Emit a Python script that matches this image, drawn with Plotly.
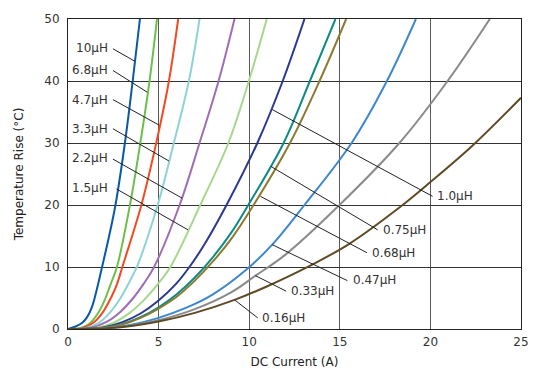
import plotly.graph_objects as go

# ---- data ----
names = ["10µH", "6.8µH", "4.7µH", "3.3µH", "2.2µH", "1.5µH",
         "1.0µH", "0.75µH", "0.68µH", "0.47µH", "0.33µH", "0.16µH"]

x_10 = [0, 0.42, 0.79, 1.07, 1.34, 1.6, 1.88, 2.27, 2.62, 3.14, 3.57, 3.97]
y_10 = [0, 0.4, 1.0, 2.0, 3.7, 6.5, 10, 15, 20, 30, 40, 50]

x_6p8 = [0, 0.7, 1.2, 1.6, 2.0, 2.35, 2.7, 3.42, 3.99, 4.5, 4.91]
y_6p8 = [0, 0.15, 0.9, 2.3, 4.5, 7.2, 10, 20, 30, 40, 50]

x_4p7 = [0, 0.8, 1.4, 1.9, 2.4, 2.7, 3.0, 4.05, 4.87, 5.57, 6.08]
y_4p7 = [0, 0.15, 1.0, 2.6, 5.2, 7.2, 10, 20, 30, 40, 50]

x_3p3 = [0, 1.0, 1.7, 2.3, 2.9, 3.6, 3.8, 4.95, 5.84, 6.67, 7.26]
y_3p3 = [0, 0.15, 1.0, 2.6, 5.0, 8.8, 10, 20, 30, 40, 50]

x_2p2 = [0, 1.2, 2.1, 2.9, 3.6, 4.2, 4.75, 6.16, 7.26, 8.31, 9.19]
y_2p2 = [0, 0.15, 1.1, 2.8, 5.0, 7.4, 10, 20, 30, 40, 50]

x_1p5 = [0, 1.5, 2.5, 3.4, 4.2, 5.0, 5.65, 7.3, 8.85, 9.98, 10.97]
y_1p5 = [0, 0.15, 1.0, 2.6, 4.7, 7.4, 10, 20, 30, 40, 50]

x_1p0 = [0, 2.0, 3.0, 4.0, 5.0, 6.0, 6.7, 7.5, 8.75, 10.45, 11.85, 13.05]
y_1p0 = [0, 0.3, 1.1, 2.5, 4.6, 7.4, 10, 13.5, 20, 30, 40, 50]

x_0p75 = [0, 2.0, 3.0, 4.0, 5.0, 6.0, 7.0, 8.0, 9.0, 9.95, 11.9, 13.35, 14.76]
y_0p75 = [0, 0.2, 0.8, 1.9, 3.5, 5.6, 8.3, 11.6, 15.5, 20, 30, 40, 50]

x_0p68 = [0, 2.0, 3.0, 4.0, 5.0, 6.0, 7.0, 8.0, 9.0, 10.2, 12.25, 13.88, 15.35]
y_0p68 = [0, 0.2, 0.75, 1.8, 3.3, 5.2, 7.8, 10.9, 14.5, 19.8, 30, 40, 50]

x_0p47 = [0, 2.0, 3.5, 5.0, 6.5, 8.0, 9.85, 11.27, 13.05, 15.65, 17.6, 19.2]
y_0p47 = [0, 0.1, 0.7, 1.8, 3.4, 5.6, 9.6, 13.6, 20, 30, 40, 50]

x_0p33 = [0, 2.0, 3.5, 5.0, 7.0, 9.0, 10.35, 12.0, 14.98, 18.29, 20.95, 23.28]
y_0p33 = [0, 0.1, 0.55, 1.4, 3.2, 5.9, 8.6, 12.0, 20, 30, 40, 50]

x_0p16 = [0, 2.0, 3.5, 5.0, 7.0, 9.19, 11.0, 13.42, 15.5, 18.29, 20.0, 22.33, 25.0]
y_0p16 = [0, 0.1, 0.5, 1.2, 2.6, 4.7, 6.9, 10.3, 13.7, 19.6, 23.7, 29.6, 37.3]

xs = [x_10, x_6p8, x_4p7, x_3p3, x_2p2, x_1p5, x_1p0, x_0p75, x_0p68, x_0p47, x_0p33, x_0p16]
ys = [y_10, y_6p8, y_4p7, y_3p3, y_2p2, y_1p5, y_1p0, y_0p75, y_0p68, y_0p47, y_0p33, y_0p16]

x_ticks = [0, 5, 10, 15, 20, 25]
y_ticks = [0, 10, 20, 30, 40, 50]

# ---- styles ----
colors = ["#0a58a8", "#6dbf4b", "#f04c23", "#8ed3d5", "#9d6db5", "#a5d88d",
          "#2b3990", "#0d8a84", "#8b7a30", "#3f87cc", "#8a8a8a", "#5e4b25"]

# label layout: (text_x, text_y, anchor, leader start, leader end)
label_pos = {
    "10µH":   (2.30, 45.4, "right", (2.48, 45.2), (3.68, 43.2)),
    "6.8µH":  (2.30, 41.7, "right", (2.48, 41.7), (4.37, 38.2)),
    "4.7µH":  (2.30, 37.0, "right", (2.48, 37.0), (5.02, 32.9)),
    "3.3µH":  (2.30, 32.3, "right", (2.48, 32.3), (5.57, 27.1)),
    "2.2µH":  (2.30, 27.6, "right", (2.48, 27.4), (6.30, 21.1)),
    "1.5µH":  (2.30, 22.8, "right", (2.67, 22.6), (6.62, 16.0)),
    "1.0µH":  (20.27, 21.5, "left", (11.27, 35.4), (20.12, 21.4)),
    "0.75µH": (17.28, 16.0, "left", (11.21, 26.2), (17.09, 16.0)),
    "0.68µH": (16.67, 12.2, "left", (10.62, 21.4), (16.50, 12.3)),
    "0.47µH": (15.62, 7.9, "left", (11.27, 13.6), (15.42, 7.8)),
    "0.33µH": (12.20, 6.2, "left", (10.35, 8.6), (12.04, 6.1)),
    "0.16µH": (10.60, 1.8, "left", (9.19, 4.7), (10.47, 1.8)),
}

FONT = "DejaVu Sans"

fig = go.Figure()
for n, x, y, c in zip(names, xs, ys, colors):
    fig.add_trace(go.Scatter(x=x, y=y, mode="lines", name=n,
                             line=dict(color=c, width=2, shape="spline", smoothing=1.0),
                             showlegend=False))

annotations = []
shapes = []
for n in names:
    tx, ty, anc, (x0, y0), (x1, y1) = label_pos[n]
    annotations.append(dict(x=tx, y=ty, xref="x", yref="y", text=n, showarrow=False,
                            xanchor=anc, yanchor="middle",
                            font=dict(family=FONT, size=12, color="#333")))
    shapes.append(dict(type="line", xref="x", yref="y", x0=x0, y0=y0, x1=x1, y1=y1,
                       line=dict(color="#222", width=1)))

# the page body adds an 8px offset, so the figure is sized to end at the window edge
fig.update_layout(
    width=528, height=361,
    margin=dict(l=60, r=15, t=11, b=40, autoexpand=False),
    paper_bgcolor="white", plot_bgcolor="white",
    annotations=annotations, shapes=shapes,
    font=dict(family=FONT, size=12, color="#333"),
    xaxis=dict(range=[0, 25], tickvals=x_ticks, ticktext=[str(v) for v in x_ticks],
               showgrid=True, gridcolor="#5a5a5a", gridwidth=1, automargin=False,
               showline=True, mirror=True, linecolor="#222", linewidth=1,
               zeroline=False, ticks="", ticklabelstandoff=2,
               tickfont=dict(family=FONT, size=12, color="#333"),
               title=dict(text="DC Current (A)", font=dict(family=FONT, size=12, color="#222"),
                          standoff=11)),
    yaxis=dict(range=[0, 50], tickvals=y_ticks, ticktext=[str(v) for v in y_ticks],
               showgrid=True, gridcolor="#333", gridwidth=1, automargin=False,
               showline=True, mirror=True, linecolor="#222", linewidth=1,
               zeroline=False, ticks="", ticklabelstandoff=5,
               tickfont=dict(family=FONT, size=12, color="#333"),
               title=dict(text="Temperature Rise (°C)", font=dict(family=FONT, size=12, color="#222"),
                          standoff=18)),
)

fig.write_html("out.html")
